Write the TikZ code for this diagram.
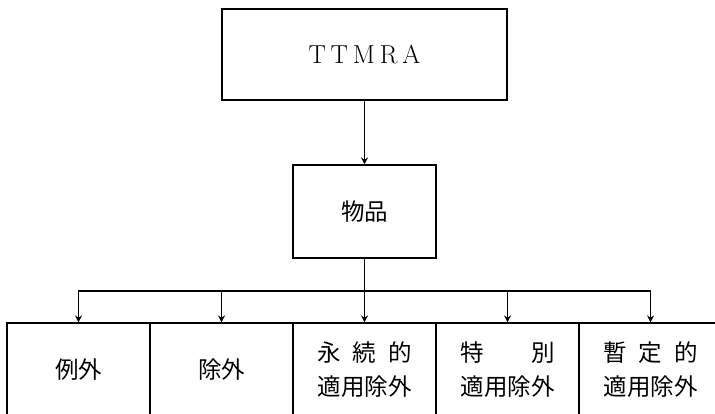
\documentclass[tikz,border=0pt]{standalone}
\usepackage{fontspec}
\newfontfamily\jp{Noto Sans CJK JP}
\usetikzlibrary{arrows.meta}
\begin{document}
\begin{tikzpicture}[x=1pt,y=-1pt,
  box/.style={draw,line width=1.1pt,inner sep=0pt},
  jptext/.style={font=\jp\fontsize{23.5}{34}\selectfont,align=center},
  conn/.style={line width=1.1pt},
  arr/.style={conn,-{Stealth[length=7pt,width=7pt]}}]
\useasboundingbox[fill=white] (0,0) rectangle (715,414);
\clip (0,0) rectangle (715,414);
\node[box,minimum width=285pt,minimum height=91pt,font=\fontsize{26}{30}\selectfont] (top) at (364.5,54.5) {\makebox[112pt][s]{T\hfill T\hfill M\hfill R\hfill A}};
\node[box,jptext,minimum width=143pt,minimum height=93pt] (mid) at (364.5,211.5) {物品};
\node[box,jptext,minimum width=143pt,minimum height=94pt] (b1) at (78.5,370) {例外};
\node[box,jptext,minimum width=143pt,minimum height=94pt] (b2) at (221.5,370) {除外};
\node[box,jptext,minimum width=143pt,minimum height=94pt] (b3) at (364.5,370) {\makebox[4em][s]{永\hfill 続\hfill 的}\\適用除外};
\node[box,jptext,minimum width=143pt,minimum height=94pt] (b4) at (507.5,370) {\makebox[4em][s]{特\hfill 別}\\適用除外};
\node[box,jptext,minimum width=143pt,minimum height=94pt] (b5) at (650.5,370) {\makebox[4em][s]{暫\hfill 定\hfill 的}\\適用除外};
\coordinate (bus) at (364.5,291);
\draw[arr] (top) -- (mid);
\draw[conn] (mid) -- (bus);
\draw[arr] (bus) -| (b1.north);
\draw[arr] (bus) -| (b2.north);
\draw[arr] (bus) -- (b3.north);
\draw[arr] (bus) -| (b4.north);
\draw[arr] (bus) -| (b5.north);
\end{tikzpicture}
\end{document}
